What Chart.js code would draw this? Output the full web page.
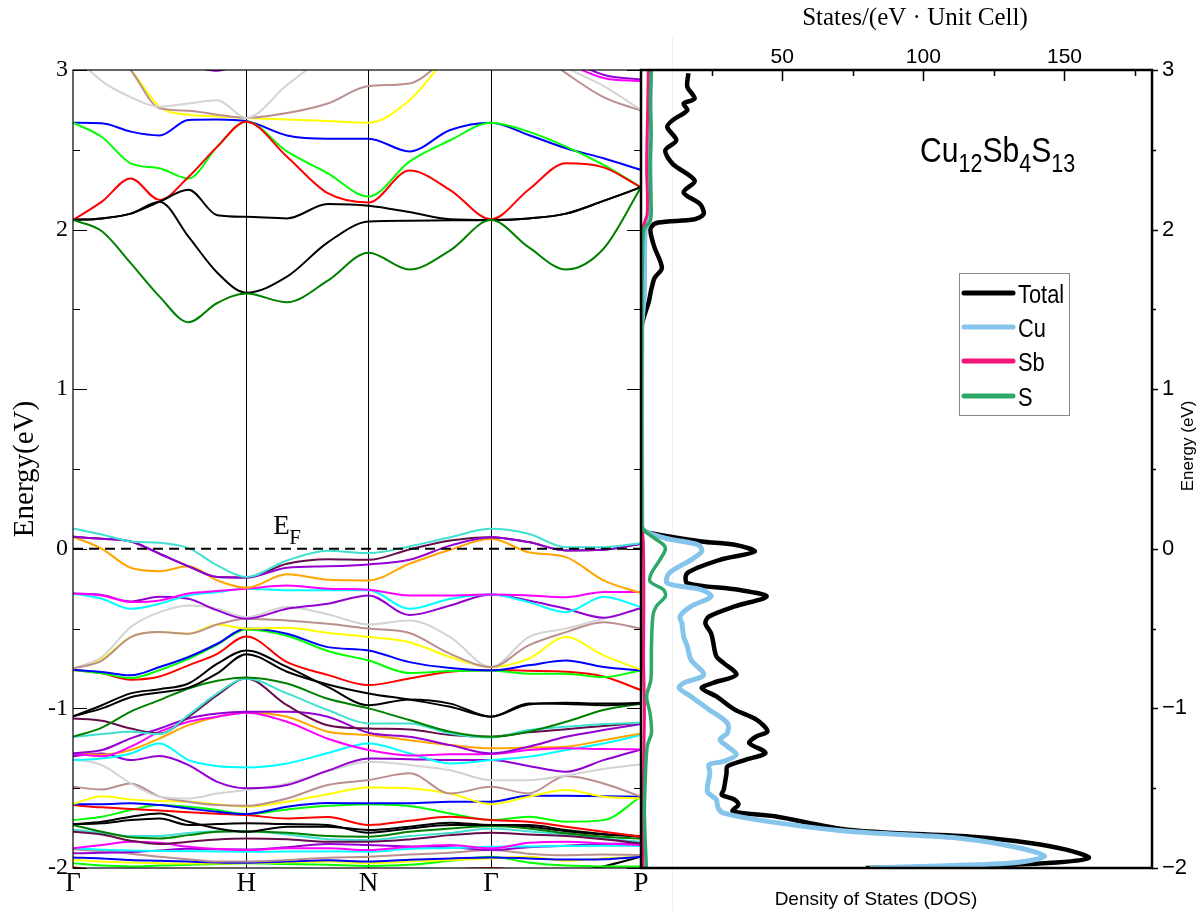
<!DOCTYPE html>
<html>
<head>
<meta charset="utf-8">
<title>Cu12Sb4S13 band structure and DOS</title>
<script src="https://cdn.jsdelivr.net/npm/chart.js@4.4.1/dist/chart.umd.min.js"></script>
<style>
  html, body { margin: 0; padding: 0; background: #fff; }
  #wrap { position: relative; width: 1201px; height: 911px; overflow: hidden; }
  #bands { position: absolute; left: 0; top: 0; }
  #dos { position: absolute; left: 600px; top: 0; }
</style>
</head>
<body>
<div id="wrap">
  <canvas id="bands" width="700" height="911"></canvas>
  <canvas id="dos" width="601" height="911"></canvas>
</div>
<script>
const SERIF = "'Liberation Serif', 'Times New Roman', serif";
const SANS = "'Liberation Sans', Arial, sans-serif";

// k-path of the bcc zone: Γ-H-N-Γ-P (units of 2π/a)
const kPath = [0, 1, 1.7071, 2.4142, 3.2802];
const kLabels = ['Γ', 'H', 'N', 'Γ', 'P'];
const kGrid = [0, 0.1667, 0.3333, 0.5, 0.6667, 0.8333, 1,
               1.2357, 1.4714, 1.7071,
               1.9428, 2.1785, 2.4142,
               2.6307, 2.8472, 3.0637, 3.2802];
const energyTicks = [-2, -1.5, -1, -0.5, 0, 0.5, 1, 1.5, 2, 2.5, 3];
const fermiLevel = [0, 0];

const bandColors = [
  // conduction
  '#ff00ff', '#9400d3', '#008000', '#000000', '#000000', '#ff0000', '#00ff00', '#0000ff', '#d3d3d3', '#bc8f8f', '#ffff00',
  // valence
  '#40e0d0', '#9400d3', '#650d4b', '#ffa500', '#ff00ff', '#00ffff', '#9400d3', '#bc8f8f', '#d3d3d3', '#ffff00',
  '#0000ff', '#00ff00', '#ff0000', '#000000', '#000000', '#008000', '#40e0d0', '#650d4b', '#9400d3', '#ff00ff',
  '#ffa500', '#00ffff', '#9400d3', '#d3d3d3', '#bc8f8f', '#ffff00', '#0000ff', '#ff0000', '#00ff00', '#000000',
  '#000000', '#008000', '#650d4b', '#40e0d0', '#ff00ff', '#00ffff', '#9400d3', '#bc8f8f', '#0000ff', '#ffff00',
  '#00ff00', '#ff0000', '#000000'
];

const bandEnergies = [
  [3.5, 3.5, 3.5, 3.5, 3.4, 3.2, 3.1, 3.2, 3.3, 3.4, 3.4, 3.4, 3.3, 3.2, 3.05, 2.95, 2.93],
  [3.4, 3.3, 3.2, 3.1, 3.03, 2.995, 3.06, 3.2, 3.3, 3.4, 3.4, 3.4, 3.35, 3.25, 3.08, 2.97, 2.94],
  [2.06, 1.99, 1.79, 1.58, 1.42, 1.54, 1.60, 1.545, 1.68, 1.855, 1.75, 1.87, 2.06, 1.89, 1.75, 1.88, 2.265],
  [2.06, 2.07, 2.10, 2.175, 1.956, 1.73, 1.605, 1.705, 1.92, 2.05, 2.055, 2.058, 2.06, 2.07, 2.10, 2.18, 2.265],
  [2.06, 2.07, 2.10, 2.175, 2.25, 2.09, 2.08, 2.07, 2.16, 2.15, 2.11, 2.065, 2.06, 2.07, 2.10, 2.18, 2.265],
  [2.06, 2.175, 2.32, 2.186, 2.33, 2.52, 2.676, 2.457, 2.228, 2.17, 2.37, 2.248, 2.065, 2.25, 2.415, 2.39, 2.265],
  [2.67, 2.58, 2.415, 2.384, 2.32, 2.52, 2.676, 2.49, 2.353, 2.207, 2.426, 2.56, 2.67, 2.614, 2.52, 2.405, 2.265],
  [2.67, 2.666, 2.614, 2.59, 2.687, 2.69, 2.68, 2.59, 2.57, 2.57, 2.49, 2.624, 2.67, 2.593, 2.51, 2.447, 2.374],
  [3.1, 2.93, 2.83, 2.77, 2.79, 2.81, 2.70, 2.906, 3.1, 3.3, 3.3, 3.3, 3.3, 3.2, 3.02, 2.9, 2.75],
  [3.4, 3.2, 3.0, 2.76, 2.745, 2.72, 2.70, 2.73, 2.79, 2.90, 2.916, 3.1, 3.3, 3.15, 2.98, 2.83, 2.745],
  [3.35, 3.15, 3.0, 2.77, 2.72, 2.71, 2.70, 2.69, 2.68, 2.67, 2.81, 3.1, 3.3, 3.3, 3.3, 3.3, 3.3],

  [0.127, 0.09, 0.046, 0.038, 0.004, -0.104, -0.177, -0.073, -0.012, -0.027, 0.015, 0.073, 0.125, 0.094, 0.01, 0.01, 0.035],
  [0.075, 0.063, 0.046, -0.031, -0.11, -0.177, -0.18, -0.119, -0.11, -0.098, -0.069, 0.02, 0.073, 0.042, -0.01, -0.006, 0.031],
  [0.075, 0.063, 0.046, -0.031, -0.11, -0.177, -0.18, -0.094, -0.065, -0.069, -0.004, 0.052, 0.073, 0.042, -0.01, -0.006, 0.031],
  [0.075, 0.0, -0.119, -0.14, -0.11, -0.198, -0.244, -0.16, -0.194, -0.198, -0.094, -0.006, 0.063, -0.021, -0.052, -0.198, -0.278],
  [-0.28, -0.292, -0.334, -0.324, -0.28, -0.265, -0.25, -0.23, -0.25, -0.257, -0.292, -0.292, -0.286, -0.292, -0.303, -0.27, -0.27],
  [-0.28, -0.313, -0.376, -0.344, -0.292, -0.271, -0.25, -0.26, -0.26, -0.26, -0.376, -0.313, -0.286, -0.334, -0.397, -0.30, -0.365],
  [-0.28, -0.29, -0.33, -0.30, -0.313, -0.386, -0.438, -0.376, -0.344, -0.292, -0.415, -0.355, -0.286, -0.324, -0.376, -0.432, -0.37],
  [-0.75, -0.70, -0.553, -0.522, -0.532, -0.474, -0.438, -0.449, -0.47, -0.50, -0.528, -0.658, -0.741, -0.605, -0.522, -0.46, -0.50],
  [-0.75, -0.678, -0.49, -0.397, -0.355, -0.376, -0.428, -0.365, -0.41, -0.474, -0.449, -0.553, -0.741, -0.553, -0.5, -0.438, -0.376],
  [-0.75, -0.69, -0.553, -0.522, -0.532, -0.474, -0.50, -0.495, -0.526, -0.553, -0.585, -0.678, -0.741, -0.689, -0.553, -0.668, -0.758],
  [-0.758, -0.772, -0.793, -0.741, -0.678, -0.595, -0.50, -0.532, -0.616, -0.637, -0.71, -0.747, -0.762, -0.73, -0.70, -0.741, -0.762],
  [-0.758, -0.78, -0.81, -0.76, -0.69, -0.6, -0.505, -0.545, -0.64, -0.70, -0.778, -0.766, -0.762, -0.783, -0.783, -0.804, -0.762],
  [-0.76, -0.78, -0.82, -0.80, -0.73, -0.658, -0.549, -0.71, -0.79, -0.854, -0.812, -0.77, -0.76, -0.764, -0.77, -0.80, -0.885],
  [-1.05, -0.98, -0.906, -0.88, -0.844, -0.72, -0.637, -0.74, -0.865, -0.98, -0.944, -0.97, -1.052, -0.97, -0.973, -0.98, -0.97],
  [-1.05, -1.0, -0.93, -0.9, -0.87, -0.78, -0.66, -0.77, -0.85, -0.906, -0.945, -0.99, -1.052, -0.975, -0.965, -0.97, -0.965],
  [-1.178, -1.12, -1.02, -0.948, -0.875, -0.827, -0.806, -0.844, -0.94, -1.0, -1.073, -1.146, -1.178, -1.146, -1.084, -1.01, -0.97],
  [-1.178, -1.161, -1.146, -1.161, -1.042, -0.906, -0.812, -0.906, -1.01, -1.094, -1.094, -1.157, -1.182, -1.136, -1.115, -1.098, -1.09],
  [-1.063, -1.078, -1.126, -1.157, -1.052, -0.917, -0.812, -0.98, -1.105, -1.126, -1.132, -1.167, -1.178, -1.15, -1.13, -1.11, -1.09],
  [-1.282, -1.261, -1.188, -1.126, -1.063, -1.032, -1.021, -1.021, -1.052, -1.153, -1.178, -1.23, -1.282, -1.24, -1.178, -1.136, -1.098],
  [-1.282, -1.30, -1.24, -1.146, -1.084, -1.052, -1.027, -1.084, -1.19, -1.261, -1.295, -1.288, -1.286, -1.261, -1.25, -1.255, -1.257],
  [-1.282, -1.29, -1.261, -1.188, -1.105, -1.052, -1.027, -1.052, -1.146, -1.167, -1.199, -1.23, -1.25, -1.245, -1.24, -1.199, -1.157],
  [-1.324, -1.314, -1.282, -1.22, -1.324, -1.361, -1.37, -1.345, -1.28, -1.22, -1.282, -1.345, -1.324, -1.303, -1.261, -1.22, -1.167],
  [-1.30, -1.282, -1.324, -1.299, -1.355, -1.46, -1.50, -1.48, -1.39, -1.314, -1.318, -1.324, -1.324, -1.361, -1.397, -1.324, -1.257],
  [-1.32, -1.355, -1.47, -1.553, -1.564, -1.533, -1.512, -1.47, -1.395, -1.334, -1.355, -1.387, -1.45, -1.45, -1.42, -1.38, -1.35],
  [-1.491, -1.508, -1.47, -1.553, -1.585, -1.606, -1.61, -1.564, -1.48, -1.449, -1.407, -1.533, -1.491, -1.533, -1.424, -1.47, -1.553],
  [-1.60, -1.55, -1.57, -1.58, -1.585, -1.6, -1.616, -1.585, -1.538, -1.495, -1.5, -1.533, -1.6, -1.553, -1.512, -1.553, -1.564],
  [-1.60, -1.60, -1.595, -1.606, -1.627, -1.648, -1.662, -1.616, -1.593, -1.595, -1.595, -1.585, -1.585, -1.547, -1.547, -1.55, -1.553],
  [-1.606, -1.62, -1.63, -1.64, -1.65, -1.66, -1.668, -1.69, -1.68, -1.731, -1.704, -1.679, -1.70, -1.71, -1.741, -1.773, -1.804],
  [-1.70, -1.679, -1.637, -1.606, -1.616, -1.637, -1.662, -1.633, -1.61, -1.6, -1.612, -1.658, -1.70, -1.679, -1.71, -1.7, -1.553],
  [-1.725, -1.71, -1.679, -1.658, -1.71, -1.752, -1.773, -1.741, -1.741, -1.762, -1.741, -1.716, -1.731, -1.731, -1.762, -1.787, -1.804],
  [-1.725, -1.72, -1.70, -1.69, -1.73, -1.725, -1.72, -1.725, -1.731, -1.779, -1.752, -1.731, -1.731, -1.74, -1.77, -1.79, -1.80],
  [-1.73, -1.773, -1.808, -1.815, -1.794, -1.773, -1.769, -1.779, -1.8, -1.804, -1.773, -1.752, -1.737, -1.752, -1.783, -1.804, -1.815],
  [-1.773, -1.79, -1.829, -1.85, -1.835, -1.821, -1.815, -1.82, -1.835, -1.835, -1.821, -1.794, -1.779, -1.79, -1.80, -1.82, -1.846],
  [-1.76, -1.78, -1.80, -1.80, -1.78, -1.77, -1.77, -1.79, -1.82, -1.825, -1.80, -1.78, -1.752, -1.77, -1.79, -1.815, -1.835],
  [-1.877, -1.856, -1.835, -1.842, -1.867, -1.881, -1.888, -1.877, -1.877, -1.888, -1.867, -1.856, -1.877, -1.842, -1.835, -1.846, -1.856],
  [-1.877, -1.885, -1.89, -1.893, -1.895, -1.896, -1.898, -1.897, -1.896, -1.898, -1.88, -1.875, -1.867, -1.865, -1.862, -1.86, -1.862],
  [-1.908, -1.905, -1.90, -1.89, -1.88, -1.883, -1.884, -1.87, -1.85, -1.856, -1.865, -1.87, -1.888, -1.87, -1.86, -1.85, -1.846],
  [-1.883, -1.895, -1.91, -1.93, -1.945, -1.96, -1.96, -1.95, -1.935, -1.93, -1.915, -1.905, -1.888, -1.91, -1.92, -1.915, -1.919],
  [-1.934, -1.94, -1.95, -1.955, -1.96, -1.965, -1.967, -1.96, -1.952, -1.96, -1.948, -1.94, -1.934, -1.94, -1.947, -1.945, -1.929],
  [-1.95, -1.96, -1.965, -1.97, -1.972, -1.972, -1.971, -1.965, -1.96, -1.97, -1.96, -1.95, -1.94, -1.93, -1.955, -1.94, -1.929],
  [-1.97, -1.985, -1.99, -1.985, -1.98, -1.975, -1.97, -1.975, -1.98, -1.987, -1.98, -1.955, -1.93, -1.965, -1.985, -1.99, -1.99],
  [-1.995, -2.02, -2.04, -2.03, -2.02, -2.02, -2.03, -2.02, -2.01, -2.03, -2.03, -2.01, -2.0, -2.02, -2.03, -2.05, -2.05],
  [-2.05, -2.06, -2.06, -2.05, -2.05, -2.05, -2.05, -2.05, -2.05, -2.05, -2.05, -2.05, -2.05, -2.05, -2.03, -1.99, -1.929]
];

// density of states, states/(eV·cell) against energy
const dosTicks = [25, 50, 75, 100, 125, 150, 175];
const dosLabels = ['Total', 'Cu', 'Sb', 'S'];
const dosColors = ['#000000', '#86c5eb', '#f5137c', '#2ea869'];

const totalEnergy = [2.98, 2.895, 2.821, 2.79, 2.748, 2.685, 2.643, 2.559, 2.496, 2.412, 2.307, 2.233, 2.16, 2.097, 2.065, 2.044, 2.013, 1.97, 1.887, 1.76, 1.697, 1.613, 1.55, 1.45, 1.40, 1.2, 0.5, 0.17,
  0.119, 0.098, 0.046, 0.025, -0.017, -0.069, -0.152, -0.215, -0.257, -0.299, -0.361, -0.424, -0.466, -0.528, -0.57, -0.674, -0.716, -0.789, -0.841, -0.873, -0.925,
  -1.008, -1.071, -1.144, -1.175, -1.217, -1.278, -1.322, -1.363, -1.405, -1.509, -1.541, -1.572, -1.603, -1.645, -1.676, -1.76, -1.806, -1.843, -1.885, -1.937, -1.969, -1.99, -2.0];
const totalStates = [16.8, 16.4, 19.0, 15.1, 16.4, 11.2, 9.3, 12.5, 8.6, 11.2, 19.0, 15.1, 20.9, 22.2, 19.0, 6.1, 3.5, 3.5, 4.8, 7.4, 4.8, 3.5, 2.8, 1.0, 0.3, 0.15, 0.15, 0.3,
  0.5, 3.5, 21.5, 33.2, 40.3, 28, 16.4, 16.4, 34.5, 44.5, 33.2, 24.1, 22.8, 24.8, 25.4, 26.7, 29.3, 33.8, 25.4, 21.5, 26.7,
  33.2, 40.9, 44.8, 40.9, 38.3, 44.1, 37.0, 30.6, 30.3, 29.3, 28.6, 33.2, 34.5, 32.5, 47.4, 73.2, 118.3, 137.7, 150.6, 158.6, 144.1, 111.9, 79.6];

const cuEnergy = [3.0, 2.5, 2.06, 2.0, 1.6, 1.45, 1.4, 0.2, 0.119, 0.066, 0.025, -0.017, -0.069, -0.152, -0.215, -0.257, -0.299, -0.361,
  -0.424, -0.466, -0.549, -0.612, -0.695, -0.789, -0.841, -0.873, -0.925, -1.008, -1.092, -1.154, -1.196, -1.238, -1.29, -1.332, -1.353, -1.405, -1.52, -1.572,
  -1.624, -1.656, -1.708, -1.77, -1.812, -1.864, -1.926, -1.969, -1.99, -2.0];
const cuStates = [3.3, 3.2, 3.0, 1.5, 1.2, 0.5, 0.3, 0.3, 0.9, 8.6, 20.3, 21.5, 17.7, 10, 9.3, 21.5, 24.8, 17.7,
  13.8, 14.5, 15.1, 16.4, 17.7, 22.2, 15.1, 13.5, 17.7, 24.1, 30.6, 30.6, 28, 30.6, 33.8, 29.3, 24.1, 24.4, 23.5, 26.7,
  27.3, 29.3, 44.8, 73.2, 112, 131.2, 143, 131.2, 99, 81];

const sbEnergy = [3.0, 2.7, 2.4, 2.1, 2.0, 1.5, 0.15, 0.05, -0.3, -0.7, -1.0, -1.3, -1.6, -2.0];
const sbStates = [2.6, 2.3, 2.0, 2.2, 0.5, 0.2, 0.2, 0.8, 1.0, 0.9, 1.2, 1.0, 0.8, 0.7];

const sEnergy = [3.0, 2.8, 2.6, 2.4, 2.2, 2.06, 2.0, 1.8, 1.5, 0.15, 0.119, 0.066, 0.025, -0.006, -0.069, -0.152, -0.205, -0.257, -0.299, -0.361,
  -0.424, -0.61, -0.82, -0.925, -1.03, -1.154, -1.238, -1.45, -1.66, -2.0];
const sStates = [3.7, 3.3, 3.6, 3.2, 3.5, 3.4, 1.0, 0.5, 0.3, 0.3, 0.9, 4.8, 8.0, 8.6, 6.7, 3.7, 3.2, 8.0, 8.6, 5.4,
  4.2, 3.7, 3.5, 2.0, 3.2, 3.7, 2.2, 1.5, 1.2, 1.9];

// ---------- band structure ----------
const bandSets = bandEnergies.map((row, i) => ({
  data: row.map((e, j) => ({ x: kGrid[j], y: e })),
  borderColor: bandColors[i],
  borderWidth: 2,
  pointRadius: 0,
  cubicInterpolationMode: 'monotone'
}));
bandSets.unshift({
  data: [{ x: kPath[0], y: fermiLevel[0] }, { x: kPath[4], y: fermiLevel[1] }],
  borderColor: '#000',
  borderWidth: 2,
  borderDash: [10, 6],
  pointRadius: 0
});

const bandFrame = {
  id: 'bandFrame',
  afterDraw(chart) {
    const { ctx, chartArea: a, scales: { x, y } } = chart;
    ctx.save();
    ctx.strokeStyle = '#000';
    ctx.lineWidth = 1.2;
    ctx.strokeRect(a.left, a.top, a.right - a.left, a.bottom - a.top);
    ctx.beginPath();
    energyTicks.forEach(v => {
      const py = Math.round(y.getPixelForValue(v)) + 0.5;
      const len = Number.isInteger(v) ? 14 : 7;
      ctx.moveTo(a.left, py); ctx.lineTo(a.left + len, py);
      ctx.moveTo(a.right, py); ctx.lineTo(a.right - len, py);
    });
    ctx.stroke();

    // E_F label next to the dashed line
    const ex = x.getPixelForValue(kPath[1]) + 27;
    const ey = y.getPixelForValue(0) - 15;
    ctx.fillStyle = '#000';
    ctx.textBaseline = 'alphabetic';
    ctx.font = `27px ${SERIF}`;
    ctx.fillText('E', ex, ey);
    ctx.font = `21px ${SERIF}`;
    ctx.fillText('F', ex + 16, ey + 10);

    ctx.translate(25, (a.top + a.bottom) / 2);
    ctx.rotate(-Math.PI / 2);
    ctx.textAlign = 'center';
    ctx.textBaseline = 'middle';
    ctx.font = `29px ${SERIF}`;
    ctx.fillText('Energy(eV)', 0, 0);
    ctx.restore();
  }
};

new Chart(document.getElementById('bands'), {
  type: 'line',
  data: { datasets: bandSets },
  options: {
    responsive: false,
    animation: false,
    layout: { padding: { top: 70, right: 59, left: 0, bottom: 0 } },
    plugins: { legend: { display: false }, tooltip: { enabled: false } },
    scales: {
      x: {
        type: 'linear', min: kPath[0], max: kPath[4],
        afterBuildTicks: s => { s.ticks = kPath.map(v => ({ value: v })); },
        afterFit: s => { s.height = 43; s.paddingLeft = 0; s.paddingRight = 0; },
        ticks: {
          callback: (v, i) => kLabels[i],
          font: { family: SERIF, size: 27 }, color: '#000',
          padding: 0, autoSkip: false, maxRotation: 0
        },
        grid: {
          color: c => (c.index > 0 && c.index < kPath.length - 1) ? '#000' : 'rgba(0,0,0,0)',
          lineWidth: 1, drawTicks: false
        },
        border: { display: false }
      },
      y: {
        type: 'linear', min: -2, max: 3,
        afterBuildTicks: s => { s.ticks = energyTicks.map(v => ({ value: v })); },
        afterFit: s => { s.width = 73; s.paddingTop = 0; s.paddingBottom = 0; },
        ticks: {
          callback: v => Number.isInteger(v) ? String(v) : '',
          font: { family: SERIF, size: 24 }, color: '#000',
          padding: 5, autoSkip: false
        },
        grid: { display: false, drawTicks: false },
        border: { display: false }
      }
    }
  },
  plugins: [bandFrame]
});

// ---------- density of states ----------
const dosSeries = [
  [totalEnergy, totalStates, 4.5],
  [cuEnergy, cuStates, 5],
  [sbEnergy, sbStates, 3],
  [sEnergy, sStates, 3.5]
];
const dosSets = dosSeries.map(([en, st, w], i) => ({
  label: dosLabels[i],
  data: en.map((e, j) => ({ x: st[j], y: e })),
  borderColor: dosColors[i],
  borderWidth: w,
  pointRadius: 0,
  tension: 0.3,
  order: dosSeries.length - i
}));

function condensedText(ctx, parts, x, y, squeeze) {
  ctx.save();
  ctx.translate(x, y);
  ctx.scale(squeeze, 1);
  let cx = 0;
  parts.forEach(([t, size, dy]) => {
    ctx.font = `${size}px ${SANS}`;
    ctx.fillText(t, cx, dy);
    cx += ctx.measureText(t).width;
  });
  ctx.restore();
}

const dosFrame = {
  id: 'dosFrame',
  beforeDatasetsDraw(chart) {
    const { ctx, scales: { x } } = chart;
    const px = Math.round(x.getPixelForValue(11)) + 0.5;
    ctx.save();
    ctx.strokeStyle = '#f0f0f0';
    ctx.lineWidth = 1;
    ctx.beginPath();
    ctx.moveTo(px, 37); ctx.lineTo(px, chart.height);
    ctx.stroke();
    ctx.restore();
  },
  afterDraw(chart) {
    const { ctx, chartArea: a, scales: { x, y } } = chart;
    ctx.save();
    ctx.strokeStyle = '#000';
    ctx.lineWidth = 2.5;
    ctx.strokeRect(a.left, a.top, a.right - a.left, a.bottom - a.top);

    ctx.lineWidth = 1.5;
    ctx.beginPath();
    dosTicks.forEach(v => {
      const px = Math.round(x.getPixelForValue(v)) + 0.5;
      const len = v % 50 === 0 ? 11 : 6;
      ctx.moveTo(px, a.top); ctx.lineTo(px, a.top + len);
    });
    energyTicks.forEach(v => {
      const py = Math.round(y.getPixelForValue(v)) + 0.5;
      const len = Number.isInteger(v) ? 6 : 4;
      ctx.moveTo(a.right, py); ctx.lineTo(a.right + len, py);
    });
    ctx.stroke();

    ctx.fillStyle = '#000';
    ctx.textAlign = 'center';
    ctx.textBaseline = 'alphabetic';
    ctx.font = `25px ${SERIF}`;
    ctx.fillText('States/(eV · Unit Cell)', 315, 25);
    ctx.font = `19px ${SANS}`;
    ctx.fillText('Density of States (DOS)', 276, 905);

    ctx.save();
    ctx.translate(588, 446);
    ctx.rotate(-Math.PI / 2);
    ctx.textBaseline = 'middle';
    ctx.font = `17px ${SANS}`;
    ctx.fillText('Energy (eV)', 0, 0);
    ctx.restore();

    // compound name with subscripts
    ctx.textAlign = 'left';
    condensedText(ctx, [['Cu', 35, 0], ['12', 25, 10], ['Sb', 35, 0], ['4', 25, 10], ['S', 35, 0], ['13', 25, 10]], 320, 162, 0.86);

    // legend box
    const lx = 359, ly = 273, lw = 110, lh = 142;
    ctx.fillStyle = '#fff';
    ctx.fillRect(lx, ly, lw, lh);
    ctx.strokeStyle = '#888';
    ctx.lineWidth = 1;
    ctx.strokeRect(lx + 0.5, ly + 0.5, lw, lh);
    const rows = [293, 327, 361, 396];
    chart.data.datasets.forEach((ds, i) => {
      ctx.strokeStyle = ds.borderColor;
      ctx.lineWidth = 5;
      ctx.lineCap = 'round';
      ctx.beginPath();
      ctx.moveTo(lx + 5, rows[i]); ctx.lineTo(lx + 54, rows[i]);
      ctx.stroke();
      ctx.fillStyle = '#000';
      condensedText(ctx, [[ds.label, 26, 0]], lx + 59, rows[i] + 9.5, 0.84);
    });
    ctx.restore();
  }
};

new Chart(document.getElementById('dos'), {
  type: 'line',
  data: { datasets: dosSets },
  options: {
    responsive: false,
    animation: false,
    layout: { padding: { top: 0, right: 0, left: 41, bottom: 43 } },
    plugins: { legend: { display: false }, tooltip: { enabled: false } },
    scales: {
      x: {
        type: 'linear', position: 'top', min: 0, max: 181,
        afterBuildTicks: s => { s.ticks = dosTicks.map(v => ({ value: v })); },
        afterFit: s => { s.height = 70; s.paddingLeft = 0; s.paddingRight = 0; },
        ticks: {
          callback: v => (v % 50 === 0) ? String(v) : '',
          font: { family: SANS, size: 21 }, color: '#000',
          padding: 0, autoSkip: false, maxRotation: 0
        },
        grid: { display: false, drawTicks: false },
        border: { display: false }
      },
      y: {
        type: 'linear', position: 'right', min: -2, max: 3,
        afterBuildTicks: s => { s.ticks = energyTicks.map(v => ({ value: v })); },
        afterFit: s => { s.width = 49; s.paddingTop = 0; s.paddingBottom = 0; },
        ticks: {
          callback: v => Number.isInteger(v) ? String(v).replace('-', '\u2212') : '',
          font: { family: SANS, size: 22 }, color: '#000',
          padding: 10, autoSkip: false
        },
        grid: { display: false, drawTicks: false },
        border: { display: false }
      }
    }
  },
  plugins: [dosFrame]
});
</script>
</body>
</html>
